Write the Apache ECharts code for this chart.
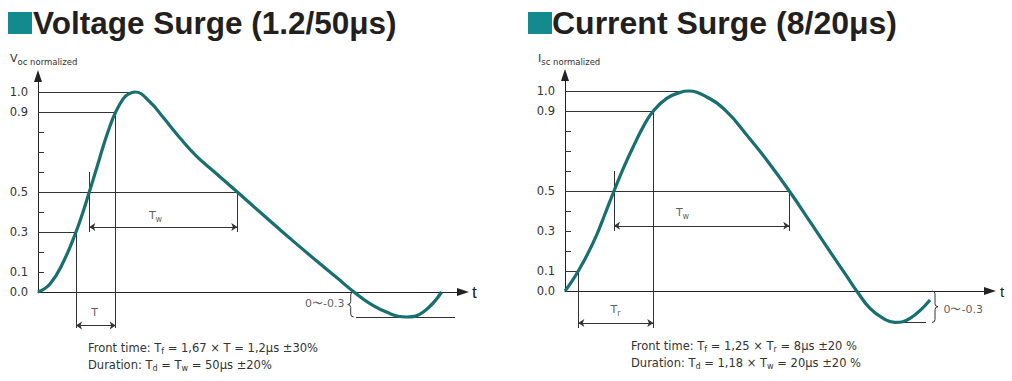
<!DOCTYPE html>
<html><head><meta charset="utf-8">
<script src="https://cdn.jsdelivr.net/npm/echarts@6/dist/echarts.min.js"></script>
<style>html,body{margin:0;padding:0;background:#fff}#c{width:1012px;height:381px}</style>
</head><body><div id="c"></div>
<script>
// ---------- data (time in arbitrary units, value normalized) ----------
const voltT = [0, 1.2, 2.53, 3.8, 4.5, 5.13, 5.87, 6.53, 7.2, 7.77, 8.53, 9.0, 9.7, 11.2, 12.53, 14.2, 15.87, 17.53, 19.93, 22.53, 25.2, 27.87, 29.87, 31.6, 33.2, 35.2, 36.87, 38.53, 40.37];
const voltV = [0, 0.04, 0.15, 0.30, 0.40, 0.50, 0.62, 0.73, 0.83, 0.90, 0.967, 0.988, 1.0, 0.95, 0.872, 0.77, 0.678, 0.605, 0.50, 0.385, 0.268, 0.155, 0.072, 0, -0.058, -0.108, -0.125, -0.10, 0];
const currT = [0, 0.67, 1.33, 2.17, 3.17, 4.0, 4.9, 5.83, 6.83, 7.83, 8.83, 10.17, 11.5, 12.33, 14.17, 16.17, 18.17, 20.17, 22.43, 24.5, 26.5, 28.17, 29.17, 30.5, 31.83, 33.0, 34.5, 36.5];
const currV = [0, 0.047, 0.10, 0.176, 0.281, 0.385, 0.50, 0.613, 0.722, 0.822, 0.90, 0.963, 0.993, 1.0, 0.97, 0.897, 0.78, 0.655, 0.50, 0.347, 0.197, 0.074, 0, -0.087, -0.137, -0.157, -0.137, -0.045];

const yTickValues = [0.1, 0.2, 0.3, 0.4, 0.5, 0.6, 0.7, 0.8, 0.9, 1.0];
const yLabelValues = [0, 0.1, 0.3, 0.5, 0.9, 1.0];

// voltage wave key times: 0.3 rise, 0.5 rise, 0.9 rise, peak, 0.5 fall, zero crossing, minimum
const voltKeyT = [3.8, 5.13, 7.77, 9.7, 19.93, 31.6, 36.87];
const voltMin = -0.125;
// current wave key times: 0.1 rise, 0.5 rise, 0.9 rise, peak, 0.5 fall, zero crossing, minimum
const currKeyT = [1.33, 4.9, 8.83, 12.33, 22.43, 29.17, 33.0];
const currMin = -0.157;

const titles = ['Voltage Surge (1.2/50μs)', 'Current Surge (8/20μs)'];
const yNames = ['V{s|oc normalized}', 'I{s|sc normalized}'];
const notes = [
  'Front time: T{s|f} = 1,67 × T = 1,2μs ±30%\nDuration: T{s|d} = T{s|w} = 50μs ±20%',
  'Front time: T{s|f} = 1,25 × T{s|r} = 8μs ±20 %\nDuration: T{s|d} = 1,18 × T{s|w} = 20μs ±20 %'
];
const rangeLabel = '0〜-0.3';

// ---------- styles ----------
const TEAL = '#17706f';
const SQUARE = '#138a8e';
const INK = '#333';
const FONT = 'DejaVu Sans';
const subRich = { s: { fontSize: 8, padding: [7, 0, 0, 0], fontFamily: FONT, color: INK } };

function pairs(ts, vs) { return ts.map((t, i) => [t, vs[i]]); }

const vk = voltKeyT, ck = currKeyT;
const voltGuides = [
  [[0, 1], [vk[3], 1]],
  [[0, 0.9], [vk[2], 0.9]],
  [[0, 0.5], [vk[4], 0.5]],
  [[0, 0.3], [vk[0], 0.3]],
  [[vk[0], 0.3], [vk[0], -0.18]],
  [[vk[2], 0.9], [vk[2], -0.18]],
  [[vk[1], 0.6], [vk[1], 0.3]],
  [[vk[4], 0.5], [vk[4], 0.3]],
  [[vk[5] + 0.2, voltMin], [41.7, voltMin]]
];
const voltArrows = [
  [[vk[0], -0.167], [vk[2], -0.167]],
  [[vk[1], 0.325], [vk[4], 0.325]]
];
const currGuides = [
  [[0, 1], [ck[3], 1]],
  [[0, 0.9], [ck[2], 0.9]],
  [[0, 0.5], [ck[4], 0.5]],
  [[0, 0.1], [ck[0], 0.1]],
  [[ck[0], 0.1], [ck[0], -0.185]],
  [[ck[2], 0.9], [ck[2], -0.185]],
  [[ck[1], 0.6], [ck[1], 0.3]],
  [[ck[4], 0.5], [ck[4], 0.3]],
  [[ck[6], currMin], [36.1, currMin]]
];
const currArrows = [
  [[ck[0], -0.16], [ck[2], -0.16]],
  [[ck[1], 0.326], [ck[4], 0.326]]
];

function xAxisCfg(i, gap, fs, dy) {
  return {
    gridIndex: i, type: 'value', min: 0, max: 42.5,
    axisLine: { show: true, onZero: false, symbol: ['none', 'triangle'], symbolSize: [8, 12], lineStyle: { color: '#222', width: 1 } },
    axisTick: { show: false }, axisLabel: { show: false }, splitLine: { show: false },
    name: 't', nameLocation: 'end', nameGap: gap,
    nameTextStyle: { fontFamily: 'Liberation Sans', fontSize: fs, color: '#222', verticalAlign: 'middle', padding: [dy * 2, 0, 0, 0] }
  };
}
function yAxisCfg(i) {
  return {
    gridIndex: i, type: 'value', min: 0, max: 1.08,
    axisLine: { show: true, symbol: ['none', 'triangle'], symbolSize: [8, 12], lineStyle: { color: '#222', width: 1 } },
    axisTick: { show: true, inside: true, length: 6, customValues: yTickValues, lineStyle: { color: INK } },
    axisLabel: { customValues: yLabelValues, formatter: v => v.toFixed(1), fontFamily: FONT, fontSize: 11.5, color: INK, margin: 10 },
    splitLine: { show: false }
  };
}
function curve(i, data) {
  return { type: 'line', xAxisIndex: i, yAxisIndex: i, data, showSymbol: false, smooth: 0.45, clip: false, z: 5,
    lineStyle: { color: TEAL, width: 3.2 }, silent: true };
}
function guides(i, segs, arrows) {
  return {
    type: 'lines', coordinateSystem: 'cartesian2d', xAxisIndex: i, yAxisIndex: i, clip: false, silent: true,
    symbol: arrows ? ['arrow', 'arrow'] : ['none', 'none'], symbolSize: 6,
    lineStyle: { color: INK, width: 1, opacity: 1 },
    data: segs.map(c => ({ coords: c }))
  };
}
function brace(i, item) {
  return {
    type: 'custom', xAxisIndex: i, yAxisIndex: i, clip: false, silent: true,
    data: [item],
    renderItem: function (params, api) {
      const p0 = api.coord([api.value(0), api.value(1)]);
      const p1 = api.coord([api.value(0), api.value(2)]);
      const d = api.value(3);
      const x = p0[0], y0 = p0[1], y1 = p1[1], ym = (y0 + y1) / 2;
      const xa = x - d * 3, xt = x + d * 3;
      const path = `M${xa} ${y0} Q${x} ${y0} ${x} ${y0 + 3} L${x} ${ym - 3} Q${x} ${ym} ${xt} ${ym} Q${x} ${ym} ${x} ${ym + 3} L${x} ${y1 - 3} Q${x} ${y1} ${xa} ${y1}`;
      return { type: 'path', shape: { pathData: path }, style: { stroke: INK, fill: 'none', lineWidth: 1 } };
    }
  };
}
function labels(i, items) {
  return {
    type: 'scatter', xAxisIndex: i, yAxisIndex: i, clip: false, silent: true, symbolSize: 1,
    itemStyle: { color: 'rgba(0,0,0,0)' },
    label: { show: true, position: [0, 0], verticalAlign: 'middle', fontFamily: FONT, fontSize: 11, color: INK, rich: subRich },
    data: items
  };
}
const nameRich = { s: { fontFamily: FONT, fontSize: 8.5, padding: [6, 0, 0, 0], color: INK } };

const chart = echarts.init(document.getElementById('c'), null, { renderer: 'svg' });
chart.setOption({
  animation: false,
  backgroundColor: '#fff',
  graphic: [
    { type: 'rect', shape: { x: 8, y: 12, width: 24, height: 22 }, style: { fill: SQUARE } },
    { type: 'rect', shape: { x: 528, y: 12, width: 24, height: 22 }, style: { fill: SQUARE } }
  ],
  title: [
    { text: titles[0], left: 33, top: 7, padding: 0, textStyle: { fontFamily: 'Liberation Sans', fontWeight: 'bold', fontSize: 31.5, color: '#231f20' } },
    { text: titles[1], left: 552, top: 7, padding: 0, textStyle: { fontFamily: 'Liberation Sans', fontWeight: 'bold', fontSize: 32, color: '#231f20' } },
    { text: yNames[0], left: 10, top: 51, padding: 0, textStyle: { fontFamily: FONT, fontWeight: 'normal', fontSize: 11, color: INK, rich: nameRich } },
    { text: yNames[1], left: 538, top: 51, padding: 0, textStyle: { fontFamily: FONT, fontWeight: 'normal', fontSize: 11, color: INK, rich: nameRich } },
    { text: notes[0], left: 88, top: 339, padding: 0, textStyle: { fontFamily: FONT, fontWeight: 'normal', fontSize: 11.5, lineHeight: 17, color: INK, rich: subRich } },
    { text: notes[1], left: 631, top: 337, padding: 0, textStyle: { fontFamily: FONT, fontWeight: 'normal', fontSize: 11.5, lineHeight: 17, color: INK, rich: subRich } }
  ],
  grid: [
    { left: 38, top: 76, width: 425, height: 216 },
    { left: 565, top: 75, width: 425, height: 216 }
  ],
  xAxis: [xAxisCfg(0, 9, 17, 12), xAxisCfg(1, 10, 15, 6)],
  yAxis: [yAxisCfg(0), yAxisCfg(1)],
  series: [
    curve(0, pairs(voltT, voltV)),
    guides(0, voltGuides, false),
    guides(0, voltArrows, true),
    brace(0, [31.27, 0, voltMin, -1]),
    labels(0, [
      { value: [5.7, -0.107], label: { formatter: 'T', align: 'center' } },
      { value: [11.8, 0.38], label: { formatter: 'T{s|w}', align: 'center' } },
      { value: [30.7, -0.062], label: { formatter: rangeLabel, align: 'right' } }
    ]),
    curve(1, pairs(currT, currV)),
    guides(1, currGuides, false),
    guides(1, currArrows, true),
    brace(1, [37.0, 0, currMin, 1]),
    labels(1, [
      { value: [5.1, -0.095], label: { formatter: 'T{s|r}', align: 'center' } },
      { value: [11.8, 0.39], label: { formatter: 'T{s|w}', align: 'center' } },
      { value: [37.9, -0.095], label: { formatter: rangeLabel, align: 'left' } }
    ])
  ]
});
</script></body></html>
